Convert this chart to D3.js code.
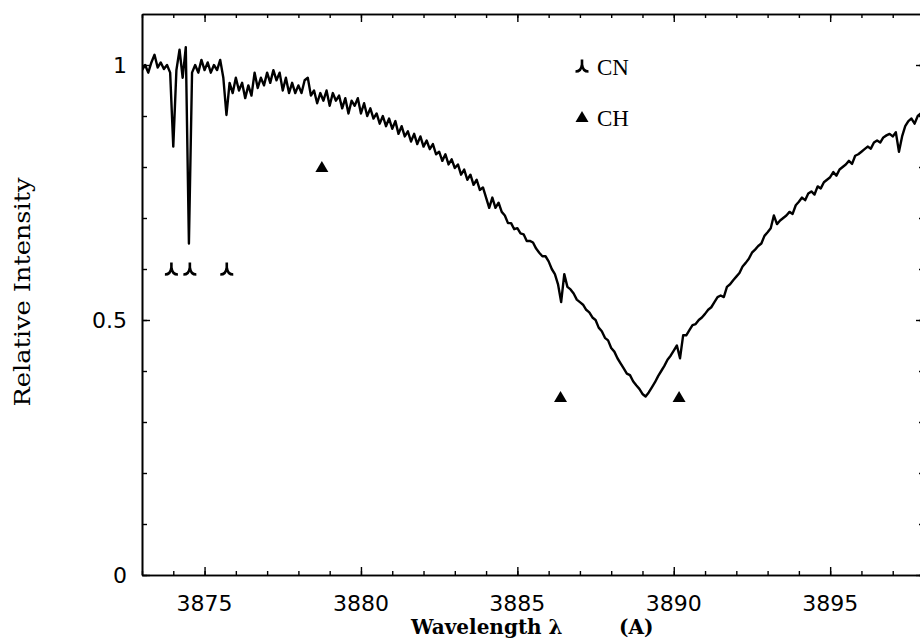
<!DOCTYPE html>
<html>
<head>
<meta charset="utf-8">
<script src="https://cdn.jsdelivr.net/npm/d3@7"></script>
<style>
  html, body { margin: 0; padding: 0; background: #fff; }
  svg { display: block; }
</style>
</head>
<body>
<svg id="chart" width="920" height="641"></svg>
<script>
// ---- data ----
const lambdaStart = 3873.0;
const lambdaStep = 0.1;
const intensity = [
  0.990, 1.000, 0.985, 1.005, 1.020, 0.995, 1.005, 0.992, 1.000, 0.985,
  0.840, 0.990, 1.030, 0.975, 1.035, 0.650, 0.985, 1.000, 0.985, 1.010,
  0.990, 1.005, 0.985, 1.000, 0.990, 1.010, 0.975, 0.902, 0.965, 0.945,
  0.975, 0.950, 0.965, 0.935, 0.960, 0.940, 0.985, 0.955, 0.975, 0.960,
  0.985, 0.965, 0.990, 0.970, 0.985, 0.950, 0.975, 0.945, 0.965, 0.945,
  0.960, 0.945, 0.970, 0.975, 0.940, 0.950, 0.925, 0.945, 0.930, 0.950,
  0.920, 0.945, 0.930, 0.940, 0.915, 0.935, 0.905, 0.930, 0.920, 0.935,
  0.905, 0.925, 0.900, 0.915, 0.895, 0.905, 0.885, 0.900, 0.880, 0.895,
  0.875, 0.890, 0.865, 0.880, 0.860, 0.870, 0.850, 0.865, 0.845, 0.860,
  0.840, 0.852, 0.835, 0.845, 0.825, 0.830, 0.812, 0.825, 0.805, 0.815,
  0.798, 0.805, 0.785, 0.795, 0.775, 0.785, 0.765, 0.775, 0.755, 0.760,
  0.740, 0.720, 0.740, 0.720, 0.730, 0.712, 0.705, 0.690, 0.690, 0.678,
  0.680, 0.670, 0.668, 0.655, 0.655, 0.652, 0.640, 0.632, 0.625, 0.625,
  0.615, 0.600, 0.590, 0.570, 0.535, 0.590, 0.565, 0.560, 0.552, 0.540,
  0.535, 0.530, 0.520, 0.515, 0.505, 0.500, 0.485, 0.478, 0.465, 0.460,
  0.445, 0.438, 0.425, 0.415, 0.405, 0.395, 0.392, 0.380, 0.372, 0.365,
  0.355, 0.350, 0.358, 0.368, 0.378, 0.390, 0.400, 0.410, 0.422, 0.430,
  0.440, 0.450, 0.425, 0.470, 0.470, 0.480, 0.490, 0.492, 0.500, 0.505,
  0.512, 0.520, 0.525, 0.535, 0.545, 0.548, 0.545, 0.565, 0.570, 0.578,
  0.585, 0.592, 0.605, 0.612, 0.620, 0.632, 0.638, 0.645, 0.650, 0.665,
  0.672, 0.680, 0.705, 0.688, 0.695, 0.700, 0.705, 0.712, 0.708, 0.725,
  0.732, 0.740, 0.735, 0.748, 0.752, 0.746, 0.762, 0.758, 0.770, 0.775,
  0.780, 0.790, 0.783, 0.795, 0.800, 0.805, 0.812, 0.806, 0.822, 0.825,
  0.830, 0.835, 0.840, 0.836, 0.848, 0.852, 0.848, 0.858, 0.862, 0.865,
  0.860, 0.868, 0.830, 0.860, 0.880, 0.890, 0.895, 0.885, 0.900, 0.905,
  0.898
];
const cnLines = [3873.94, 3874.53, 3875.71];
const cnLevel = [0.60, 0.60, 0.60];
const chLines = [3878.75, 3886.38, 3890.17];
const chLevel = [0.80, 0.349, 0.349];
const xMajorTicks = [3875, 3880, 3885, 3890, 3895];
const yMajorTicks = [0, 0.5, 1];
const yTickLabels = ["0", "0.5", "1"];
const legendItems = ["CN", "CH"];

(function () {
const svg = d3.select("#chart");
const mLeft = 142, mRight = 924, mTop = 14, mBottom = 575;
const x = d3.scaleLinear().domain([3873, 3898]).range([mLeft, mRight]);
const y = d3.scaleLinear().domain([0, 1.1]).range([mBottom, mTop]);

const spectrum = intensity.map((v, i) => ({ w: lambdaStart + i * lambdaStep, v }));

svg.append("defs").append("clipPath").attr("id", "clip")
  .append("rect").attr("x", mLeft).attr("y", mTop).attr("width", mRight - mLeft).attr("height", mBottom - mTop);

svg.append("path")
  .datum(spectrum)
  .attr("clip-path", "url(#clip)")
  .attr("fill", "none")
  .attr("stroke", "#000")
  .attr("stroke-width", 2.4)
  .attr("stroke-linejoin", "round")
  .attr("d", d3.line().x(d => x(d.w)).y(d => y(d.v)));

const xMinor = d3.range(3873, 3899, 1);
const yMinor = d3.range(0, 11, 1).map(v => v / 10);

function styleAxis(g) {
  g.selectAll(".domain").attr("stroke", "#000").attr("stroke-width", 1.6);
  g.selectAll(".tick line").attr("stroke", "#000").attr("stroke-width", 1.4);
  g.selectAll(".tick text").remove();
}

svg.append("g").attr("transform", `translate(0,${mBottom})`)
  .call(d3.axisBottom(x).tickValues(xMinor).tickSize(-4).tickSizeOuter(0)).call(styleAxis);
svg.append("g").attr("transform", `translate(0,${mBottom})`)
  .call(d3.axisBottom(x).tickValues(xMajorTicks).tickSize(-8).tickSizeOuter(0)).call(styleAxis);
svg.append("g").attr("transform", `translate(0,${mTop})`)
  .call(d3.axisTop(x).tickValues(xMinor).tickSize(-4).tickSizeOuter(0)).call(styleAxis);
svg.append("g").attr("transform", `translate(0,${mTop})`)
  .call(d3.axisTop(x).tickValues(xMajorTicks).tickSize(-8).tickSizeOuter(0)).call(styleAxis);
svg.append("g").attr("transform", `translate(${mLeft},0)`)
  .call(d3.axisLeft(y).tickValues(yMinor).tickSize(-5).tickSizeOuter(0)).call(styleAxis);
svg.append("g").attr("transform", `translate(${mLeft},0)`)
  .call(d3.axisLeft(y).tickValues(yMajorTicks).tickSize(-8).tickSizeOuter(0)).call(styleAxis);
svg.append("g").attr("transform", `translate(${mRight},0)`)
  .call(d3.axisRight(y).tickValues(yMinor).tickSize(-5).tickSizeOuter(0)).call(styleAxis);
svg.append("g").attr("transform", `translate(${mRight},0)`)
  .call(d3.axisRight(y).tickValues(yMajorTicks).tickSize(-8).tickSizeOuter(0)).call(styleAxis);

svg.append("g").selectAll("text").data(xMajorTicks).join("text")
  .attr("x", d => x(d)).attr("y", 611)
  .attr("text-anchor", "middle")
  .attr("font-family", "'DejaVu Sans', sans-serif").attr("font-size", 22)
  .text(d => d);
svg.append("g").selectAll("text").data(yMajorTicks).join("text")
  .attr("x", 127).attr("y", d => y(d) + 8)
  .attr("text-anchor", "end")
  .attr("font-family", "'DejaVu Sans', sans-serif").attr("font-size", 22)
  .text((d, i) => yTickLabels[i]);

svg.append("text")
  .attr("transform", "translate(30,292) rotate(-90)")
  .attr("text-anchor", "middle")
  .attr("font-family", "'DejaVu Serif', serif").attr("font-size", 23)
  .attr("textLength", 229).attr("lengthAdjust", "spacingAndGlyphs")
  .text("Relative Intensity");
svg.append("text")
  .attr("x", 411).attr("y", 634)
  .attr("font-family", "'DejaVu Serif', serif").attr("font-weight", "bold").attr("font-size", 20)
  .text("Wavelength λ");
svg.append("text")
  .attr("x", 619).attr("y", 634)
  .attr("font-family", "'DejaVu Serif', serif").attr("font-weight", "bold").attr("font-size", 20)
  .text("(A)");

const cnPath = "M0,-6.5 V-1 M0,-1.5 C-0.5,3 -3,5.5 -6.5,5.5 M0,-1.5 C0.5,3 3,5.5 6.5,5.5";
const triPath = "M0,-6 L6.5,5 L-6.5,5 Z";

svg.append("g").selectAll("path").data(cnLines).join("path")
  .attr("transform", (d, i) => `translate(${x(d)},${y(cnLevel[i])})`)
  .attr("d", cnPath).attr("fill", "none").attr("stroke", "#000").attr("stroke-width", 2.6);
svg.append("g").selectAll("path").data(chLines).join("path")
  .attr("transform", (d, i) => `translate(${x(d)},${y(chLevel[i])})`)
  .attr("d", triPath).attr("fill", "#000");

const legend = svg.append("g");
legend.append("path").attr("transform", "translate(582,66)")
  .attr("d", cnPath).attr("fill", "none").attr("stroke", "#000").attr("stroke-width", 2.6);
legend.append("path").attr("transform", "translate(582,117)")
  .attr("d", triPath).attr("fill", "#000");
legend.selectAll("text").data(legendItems).join("text")
  .attr("x", 597).attr("y", (d, i) => 75 + i * 51)
  .attr("font-family", "'Liberation Serif', serif").attr("font-size", 23)
  .text(d => d);
})();
</script>
</body>
</html>
